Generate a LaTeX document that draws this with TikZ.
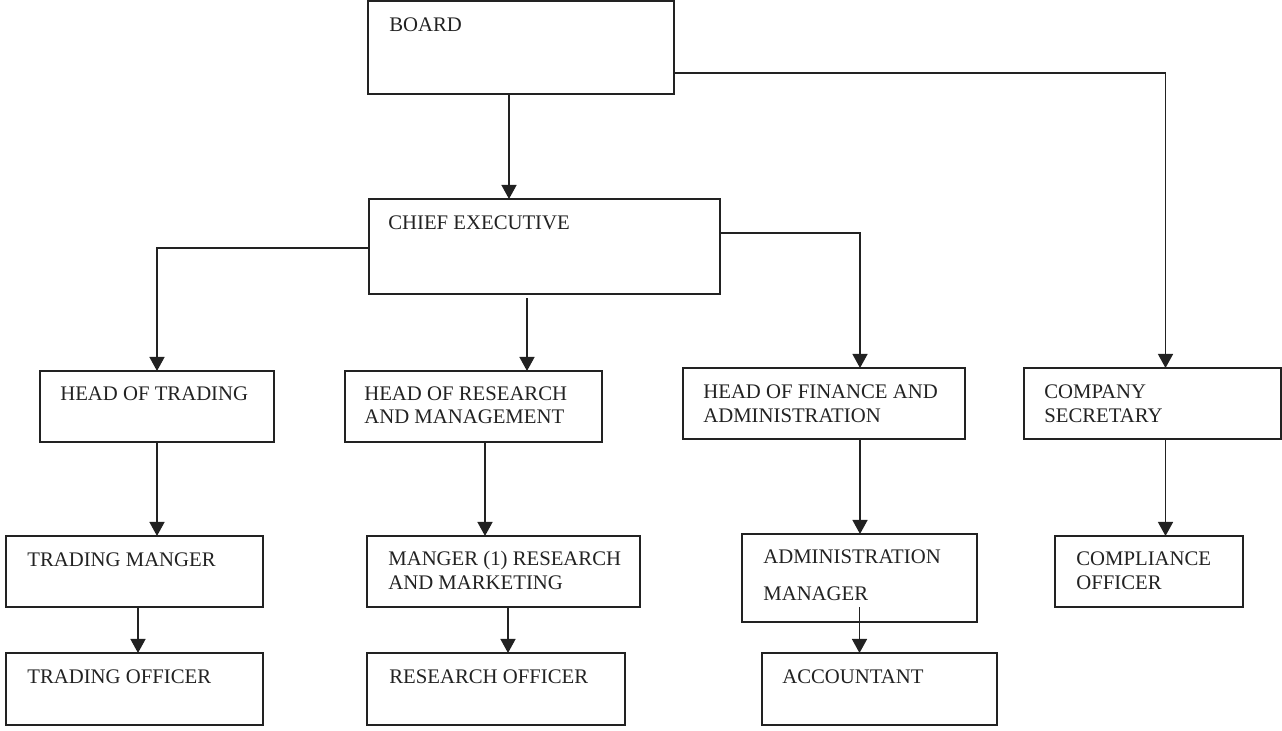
\documentclass[tikz,border=0pt]{standalone}
\usepackage{fontspec}
\setmainfont{Liberation Serif}
\usetikzlibrary{arrows.meta,calc}
\definecolor{ink}{HTML}{222222}
\begin{document}
\begin{tikzpicture}[
  box/.style={draw=ink, line width=1.1pt, inner sep=0pt, outer sep=0pt, anchor=north west},
  lbl/.style={anchor=base west, inner sep=0pt, text=ink, font=\fontsize{11.8}{14}\selectfont},
  conn/.style={draw=ink, line width=1pt},
  arr/.style={conn, -{Triangle[width=8.5pt,length=8pt]}}
]
\useasboundingbox (0,0) rectangle (25.64,-14.60);

% boxes
\node[box, minimum width=6.12cm, minimum height=1.86cm] (board) at (7.36,-0.02) {};
\node[box, minimum width=7.02cm, minimum height=1.90cm] (chief) at (7.38,-3.98) {};
\node[box, minimum width=4.68cm, minimum height=1.42cm] (hot) at (0.80,-7.42) {};
\node[box, minimum width=5.14cm, minimum height=1.42cm] (hor) at (6.90,-7.42) {};
\node[box, minimum width=5.64cm, minimum height=1.42cm] (hof) at (13.66,-7.36) {};
\node[box, minimum width=5.14cm, minimum height=1.42cm] (cs) at (20.48,-7.36) {};
\node[box, minimum width=5.14cm, minimum height=1.42cm] (tm) at (0.12,-10.72) {};
\node[box, minimum width=5.46cm, minimum height=1.42cm] (mr) at (7.34,-10.72) {};
\node[box, minimum width=4.70cm, minimum height=1.76cm] (am) at (14.84,-10.68) {};
\node[box, minimum width=3.76cm, minimum height=1.42cm] (co) at (21.10,-10.72) {};
\node[box, minimum width=5.14cm, minimum height=1.44cm] (to) at (0.12,-13.06) {};
\node[box, minimum width=5.16cm, minimum height=1.44cm] (ro) at (7.34,-13.06) {};
\node[box, minimum width=4.70cm, minimum height=1.44cm] (acc) at (15.24,-13.06) {};

% labels, set near the top left corner of each box
\node[lbl] (board-l) at (7.78,-0.62) {BOARD};
\node[lbl] (chief-l) at (7.76,-4.58) {CHIEF EXECUTIVE};
\node[lbl] (hot-l) at (1.20,-8.00) {HEAD OF TRADING};
\node[lbl] (hor-l1) at (7.28,-8.00) {HEAD OF RESEARCH};
\node[lbl] (hor-l2) at (7.28,-8.46) {AND MANAGEMENT};
\node[lbl] (hof-l1) at (14.06,-7.96) {HEAD OF FINANCE AND};
\node[lbl] (hof-l2) at (14.06,-8.44) {ADMINISTRATION};
\node[lbl] (cs-l1) at (20.88,-7.96) {COMPANY};
\node[lbl] (cs-l2) at (20.88,-8.44) {SECRETARY};
\node[lbl] (tm-l) at (0.54,-11.32) {TRADING MANGER};
\node[lbl] (mr-l1) at (7.76,-11.30) {MANGER (1) RESEARCH};
\node[lbl] (mr-l2) at (7.76,-11.78) {AND MARKETING};
\node[lbl] (am-l1) at (15.26,-11.26) {ADMINISTRATION};
\node[lbl] (am-l2) at (15.26,-12.00) {MANAGER};
\node[lbl] (co-l1) at (21.52,-11.30) {COMPLIANCE};
\node[lbl] (co-l2) at (21.52,-11.78) {OFFICER};
\node[lbl] (to-l) at (0.54,-13.66) {TRADING OFFICER};
\node[lbl] (ro-l) at (7.78,-13.66) {RESEARCH OFFICER};
\node[lbl] (acc-l) at (15.64,-13.66) {ACCOUNTANT};

% connectors
\draw[arr] ($(board.south)+(-0.24,0)$) -- ($(board.south |- chief.north)+(-0.24,0)$);
\draw[arr] ($(board.east)+(0,-0.51)$) -| ($(cs.north)+(0.26,0)$);
\draw[arr] ($(chief.west)+(0,-0.03)$) -| (hot.north);
\draw[arr] ($(hor.north |- chief.south)+(1.07,-0.08)$) -- ($(hor.north)+(1.07,0)$);
\draw[arr] ($(chief.east)+(0,0.27)$) -| ($(hof.north)+(0.72,0)$);
\draw[arr] (hot.south) -- (hot.south |- tm.north);
\draw[arr] ($(tm.south)+(0.07,0)$) -- ($(tm.south |- to.north)+(0.07,0)$);
\draw[arr] ($(hor.south)+(0.23,0)$) -- ($(hor.south |- mr.north)+(0.23,0)$);
\draw[arr] ($(mr.south)+(0.09,0)$) -- ($(mr.south |- ro.north)+(0.09,0)$);
\draw[arr] ($(hof.south)+(0.72,0)$) -- ($(hof.south |- am.north)+(0.72,0)$);
\draw[arr] ($(am.south)+(0,0.30)$) -- (am.south |- acc.north);
\draw[arr] ($(cs.south)+(0.26,0)$) -- ($(cs.south |- co.north)+(0.26,0)$);
\end{tikzpicture}
\end{document}
